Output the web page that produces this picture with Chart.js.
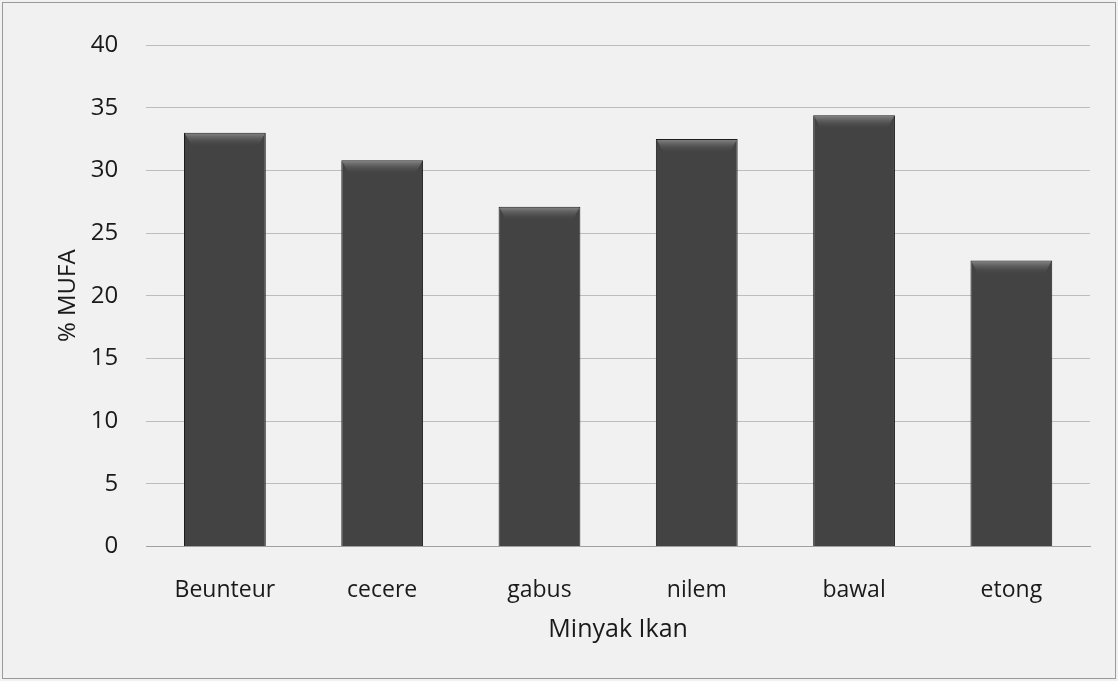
<!DOCTYPE html>
<html>
<head>
<meta charset="utf-8">
<script src="https://cdn.jsdelivr.net/npm/chart.js@4/dist/chart.umd.min.js"></script>
<style>
  html, body { margin: 0; padding: 0; background: #ffffff; }
  #wrap { width: 1118px; height: 681px; }
</style>
</head>
<body>
<div id="wrap"><canvas id="c" width="1118" height="681"></canvas></div>
<script>
const categories = ['Beunteur', 'cecere', 'gabus', 'nilem', 'bawal', 'etong'];
const mufaValues = [33.0, 30.8, 27.1, 32.5, 34.4, 22.8];
const yTicks = [0, 5, 10, 15, 20, 25, 30, 35, 40];

const FONT = "'Open Sans', Lato, sans-serif";

// light paper background and thin frame around the chart
const paper = {
  id: 'paper',
  beforeDraw(chart) {
    const { ctx, width, height } = chart;
    ctx.save();
    ctx.fillStyle = '#f1f1f1';
    ctx.fillRect(0, 0, width, height);
    ctx.strokeStyle = '#9a9a9a';
    ctx.lineWidth = 1;
    ctx.strokeRect(2.5, 2.5, width - 5, height - 5);
    ctx.restore();
  }
};

// bevelled top edge on each column
const bevel = {
  id: 'bevel',
  afterDatasetsDraw(chart) {
    const { ctx } = chart;
    const meta = chart.getDatasetMeta(0);
    ctx.save();
    meta.data.forEach(bar => {
      const w = bar.width;
      const x0 = bar.x - w / 2;
      const top = bar.y;
      const g = ctx.createLinearGradient(0, top, 0, top + 14);
      g.addColorStop(0, 'rgba(150,150,150,0.85)');
      g.addColorStop(1, 'rgba(70,70,70,0)');
      ctx.fillStyle = g;
      ctx.beginPath();
      ctx.moveTo(x0 + 1, top + 1);
      ctx.lineTo(x0 + w - 1, top + 1);
      ctx.lineTo(x0 + w - 8, top + 14);
      ctx.lineTo(x0 + 8, top + 14);
      ctx.closePath();
      ctx.fill();
    });
    ctx.restore();
  }
};

new Chart(document.getElementById('c'), {
  type: 'bar',
  data: {
    labels: categories,
    datasets: [{
      data: mufaValues,
      backgroundColor: '#434343',
      borderColor: '#1c1c1c',
      borderWidth: 1,
      barPercentage: 0.52,
      categoryPercentage: 1.0
    }]
  },
  options: {
    responsive: false,
    animation: false,
    layout: { padding: { top: 45, right: 28, bottom: 36, left: 34 } },
    plugins: {
      legend: { display: false },
      tooltip: { enabled: false }
    },
    scales: {
      x: {
        grid: { display: false, drawTicks: false },
        border: { display: true, color: '#a0a0a0', width: 1 },
        ticks: { color: '#1a1a1a', padding: 30, font: { family: FONT, size: 23 } },
        title: {
          display: true,
          text: 'Minyak Ikan',
          color: '#1a1a1a',
          padding: { top: -19, bottom: 0 },
          font: { family: FONT, size: 25 }
        }
      },
      y: {
        min: 0,
        max: 40,
        afterBuildTicks(axis) { axis.ticks = yTicks.map(v => ({ value: v })); },
        grid: { color: '#bdbdbd', lineWidth: 1, drawTicks: false },
        border: { display: false },
        ticks: { color: '#1a1a1a', padding: 28, font: { family: FONT, size: 24 } },
        title: {
          display: true,
          text: '% MUFA',
          color: '#1a1a1a',
          padding: { top: 20, bottom: -20 },
          font: { family: FONT, size: 24 }
        }
      }
    }
  },
  plugins: [paper, bevel]
});
</script>
</body>
</html>
